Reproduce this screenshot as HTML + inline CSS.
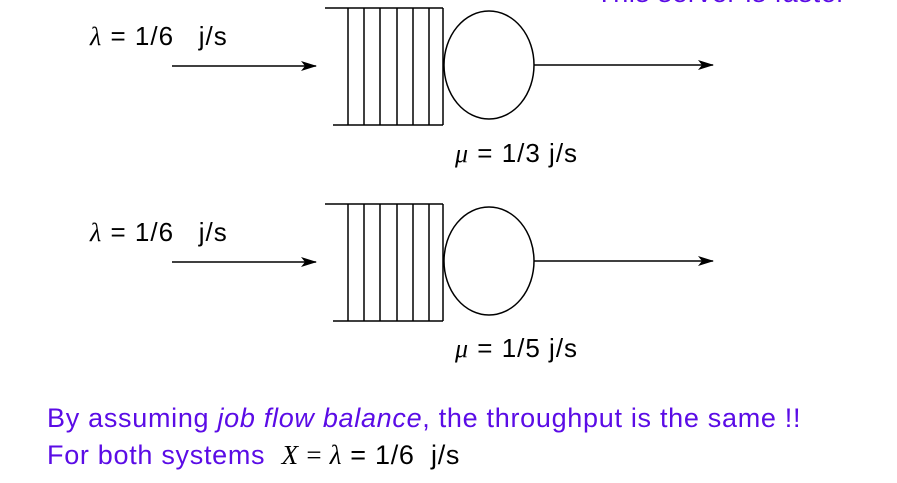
<!DOCTYPE html>
<html><head><meta charset="utf-8"><style>
body{margin:0;background:#fff;width:897px;height:483px;overflow:hidden;position:relative;font-family:"Liberation Sans",sans-serif}
.t{position:absolute;white-space:nowrap}
.p{color:#5b0ce6;font-size:27px;letter-spacing:0.7px}
.k{font-size:26px;color:#000;letter-spacing:1px}
</style></head><body>
<div class="t p" style="left:596px;top:-22px">This server is faster</div>
<div class="t k" style="left:90px;top:21px"><i style="font-family:'Liberation Serif',serif">λ</i> = 1/6&nbsp;&nbsp; j/s</div>
<div class="t k" style="left:455px;top:138px"><i style="font-family:'Liberation Serif',serif">μ</i> = 1/3 j/s</div>
<div class="t k" style="left:90px;top:217px"><i style="font-family:'Liberation Serif',serif">λ</i> = 1/6&nbsp;&nbsp; j/s</div>
<div class="t k" style="left:455px;top:333px"><i style="font-family:'Liberation Serif',serif">μ</i> = 1/5 j/s</div>
<svg width="897" height="483" style="position:absolute;left:0;top:0">
<defs><marker id="a" markerWidth="16" markerHeight="10" refX="15" refY="5" orient="auto" markerUnits="userSpaceOnUse"><path d="M0,0 L16,5 L0,10 L4,5z" fill="#000"/></marker></defs>
<g stroke="#000" stroke-width="1.5" fill="none">
<line x1="172" y1="66" x2="316" y2="66" marker-end="url(#a)"/>
<line x1="325" y1="8" x2="443" y2="8"/><line x1="333" y1="125" x2="443" y2="125"/>
<line x1="348" y1="8" x2="348" y2="125"/><line x1="364" y1="8" x2="364" y2="125"/><line x1="380" y1="8" x2="380" y2="125"/><line x1="397" y1="8" x2="397" y2="125"/><line x1="413" y1="8" x2="413" y2="125"/><line x1="429" y1="8" x2="429" y2="125"/><line x1="443" y1="8" x2="443" y2="125"/>
<ellipse cx="489" cy="65" rx="45" ry="54"/>
<line x1="534" y1="65" x2="713" y2="65" marker-end="url(#a)"/>
</g>
<g stroke="#000" stroke-width="1.5" fill="none" transform="translate(0,196)">
<line x1="172" y1="66" x2="316" y2="66" marker-end="url(#a)"/>
<line x1="325" y1="8" x2="443" y2="8"/><line x1="333" y1="125" x2="443" y2="125"/>
<line x1="348" y1="8" x2="348" y2="125"/><line x1="364" y1="8" x2="364" y2="125"/><line x1="380" y1="8" x2="380" y2="125"/><line x1="397" y1="8" x2="397" y2="125"/><line x1="413" y1="8" x2="413" y2="125"/><line x1="429" y1="8" x2="429" y2="125"/><line x1="443" y1="8" x2="443" y2="125"/>
<ellipse cx="489" cy="65" rx="45" ry="54"/>
<line x1="534" y1="65" x2="713" y2="65" marker-end="url(#a)"/>
</g>
</svg>
<div class="t p" style="left:47px;top:403px">By assuming <i>job flow balance</i>, the throughput is the same !!</div>
<div class="t p" style="left:47px;top:440px">For both systems&nbsp; <span style="color:#000;font-family:'Liberation Serif',serif"><i>X</i> = <i>λ</i></span><span style="color:#000"> = 1/6&nbsp; j/s</span></div>
</body></html>
